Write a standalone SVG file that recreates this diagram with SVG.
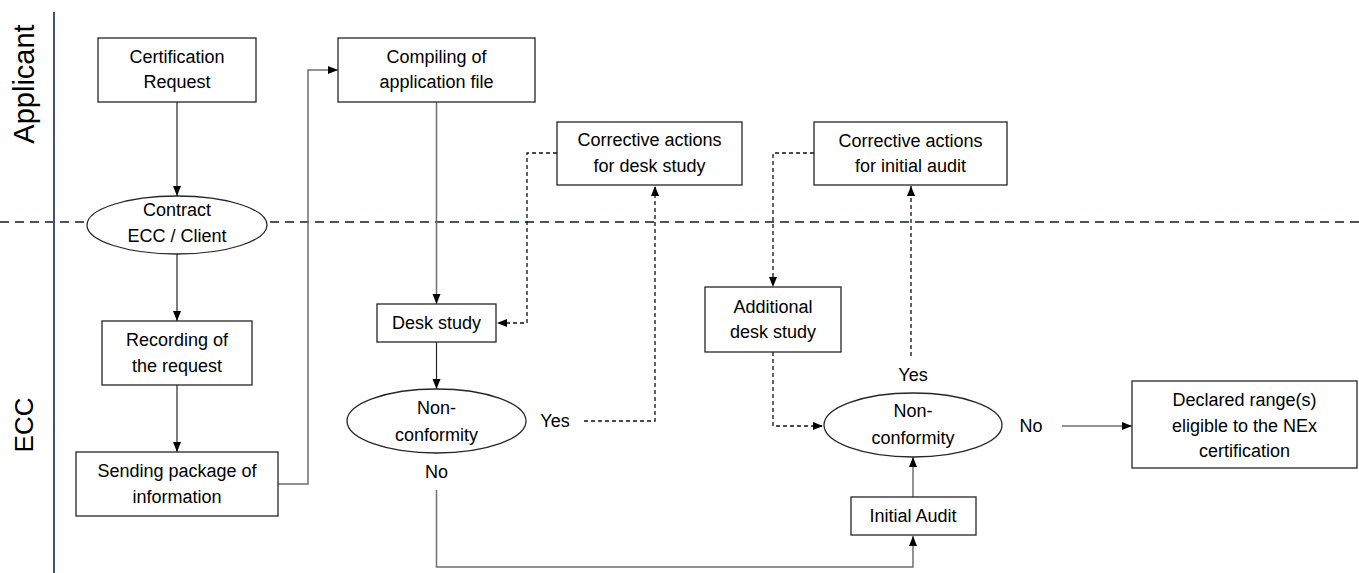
<svg xmlns="http://www.w3.org/2000/svg" width="1359" height="573" viewBox="0 0 1359 573">
<style>
.box{fill:#fff;stroke:#262626;stroke-width:1.3}
.t{font-family:"Liberation Sans",Arial,sans-serif;font-size:18px;fill:#000;text-anchor:middle;dominant-baseline:central}
.lane{font-family:"Liberation Sans",Arial,sans-serif;font-size:29px;fill:#000;text-anchor:middle;dominant-baseline:central}
.c{fill:none;stroke:#262626;stroke-width:1.2}
.g{fill:none;stroke:#6f6f6f;stroke-width:1.5}
.d{fill:none;stroke:#111;stroke-width:1.3;stroke-dasharray:4 3}
</style>
<defs>
<marker id="ah" markerUnits="userSpaceOnUse" markerWidth="11" markerHeight="10" refX="10" refY="4" orient="auto">
<path d="M0,0 L10,4 L0,8 z" fill="#000"/>
</marker>
</defs>
<rect width="1359" height="573" fill="#fff"/>
<g id="lanes">
<line x1="54" y1="12" x2="54" y2="573" stroke="#44546a" stroke-width="2"/>
<line x1="0" y1="222" x2="1359" y2="222" stroke="#44546a" stroke-width="2" stroke-dasharray="9 6"/>
<text class="lane" transform="translate(24,84) rotate(-90)">Applicant</text>
<text class="lane" transform="translate(24,425) rotate(-90)" style="font-size:26px">ECC</text>
</g>
<g id="connectors">
<line class="c" x1="177" y1="102" x2="177" y2="196" marker-end="url(#ah)"/>
<line class="c" x1="177" y1="254" x2="177" y2="321" marker-end="url(#ah)"/>
<line class="c" x1="177" y1="385" x2="177" y2="452" marker-end="url(#ah)"/>
<polyline class="g" points="278,484 308,484 308,70 338,70" marker-end="url(#ah)"/>
<line class="g" x1="436.5" y1="102" x2="436.5" y2="304" marker-end="url(#ah)"/>
<line class="c" x1="436.5" y1="342" x2="436.5" y2="389" marker-end="url(#ah)"/>
<polyline class="d" points="584,421 655,421 655,186" marker-end="url(#ah)"/>
<polyline class="d" points="557,153 527,153 527,323 497,323" marker-end="url(#ah)"/>
<polyline class="d" points="814,153 773,153 773,287" marker-end="url(#ah)"/>
<polyline class="d" points="773,352 773,426 823,426" marker-end="url(#ah)"/>
<line class="d" x1="911" y1="356" x2="911" y2="186" marker-end="url(#ah)"/>
<line class="c" x1="1062" y1="426" x2="1132" y2="426" marker-end="url(#ah)"/>
<polyline class="g" points="436.5,490 436.5,567 913,567 913,536" marker-end="url(#ah)"/>
<line class="g" x1="913" y1="497" x2="913" y2="457" marker-end="url(#ah)"/>
<text class="t" x="555" y="421">Yes</text>
<text class="t" x="436.5" y="472">No</text>
<text class="t" x="913" y="375">Yes</text>
<text class="t" x="1031" y="426">No</text>
</g>
<g id="cert-request">
<rect class="box" x="98" y="38" width="158" height="64"/>
<text class="t" x="177" y="57">Certification</text>
<text class="t" x="177" y="82">Request</text>
</g>
<g id="contract">
<ellipse class="box" cx="177" cy="225" rx="90" ry="29"/>
<text class="t" x="177" y="210">Contract</text>
<text class="t" x="177" y="236">ECC / Client</text>
</g>
<g id="recording">
<rect class="box" x="102" y="321" width="150" height="64"/>
<text class="t" x="177" y="340">Recording of</text>
<text class="t" x="177" y="366">the request</text>
</g>
<g id="sending">
<rect class="box" x="76" y="452" width="202" height="64"/>
<text class="t" x="177" y="471">Sending package of</text>
<text class="t" x="177" y="497">information</text>
</g>
<g id="compiling">
<rect class="box" x="338" y="38" width="197" height="64"/>
<text class="t" x="436.5" y="57">Compiling of</text>
<text class="t" x="436.5" y="82">application file</text>
</g>
<g id="desk-study">
<rect class="box" x="377" y="304" width="119" height="38"/>
<text class="t" x="436.5" y="323">Desk study</text>
</g>
<g id="nonconformity-1">
<ellipse class="box" cx="436.5" cy="421" rx="89.5" ry="32"/>
<text class="t" x="436.5" y="408">Non-</text>
<text class="t" x="436.5" y="435">conformity</text>
</g>
<g id="corrective-desk">
<rect class="box" x="557" y="122" width="185" height="63"/>
<text class="t" x="649.5" y="140">Corrective actions</text>
<text class="t" x="649.5" y="166">for desk study</text>
</g>
<g id="corrective-audit">
<rect class="box" x="814" y="122" width="193" height="63"/>
<text class="t" x="910.5" y="141">Corrective actions</text>
<text class="t" x="910.5" y="166">for initial audit</text>
</g>
<g id="additional-desk">
<rect class="box" x="705" y="287" width="136" height="65"/>
<text class="t" x="773" y="307">Additional</text>
<text class="t" x="773" y="332">desk study</text>
</g>
<g id="nonconformity-2">
<ellipse class="box" cx="913" cy="425" rx="89" ry="32"/>
<text class="t" x="913" y="411">Non-</text>
<text class="t" x="913" y="438">conformity</text>
</g>
<g id="initial-audit">
<rect class="box" x="851" y="497" width="125" height="38"/>
<text class="t" x="913" y="516">Initial Audit</text>
</g>
<g id="declared">
<rect class="box" x="1132" y="381" width="225" height="87"/>
<text class="t" x="1244.5" y="400">Declared range(s)</text>
<text class="t" x="1244.5" y="426">eligible to the NEx</text>
<text class="t" x="1244.5" y="451">certification</text>
</g>
</svg>
